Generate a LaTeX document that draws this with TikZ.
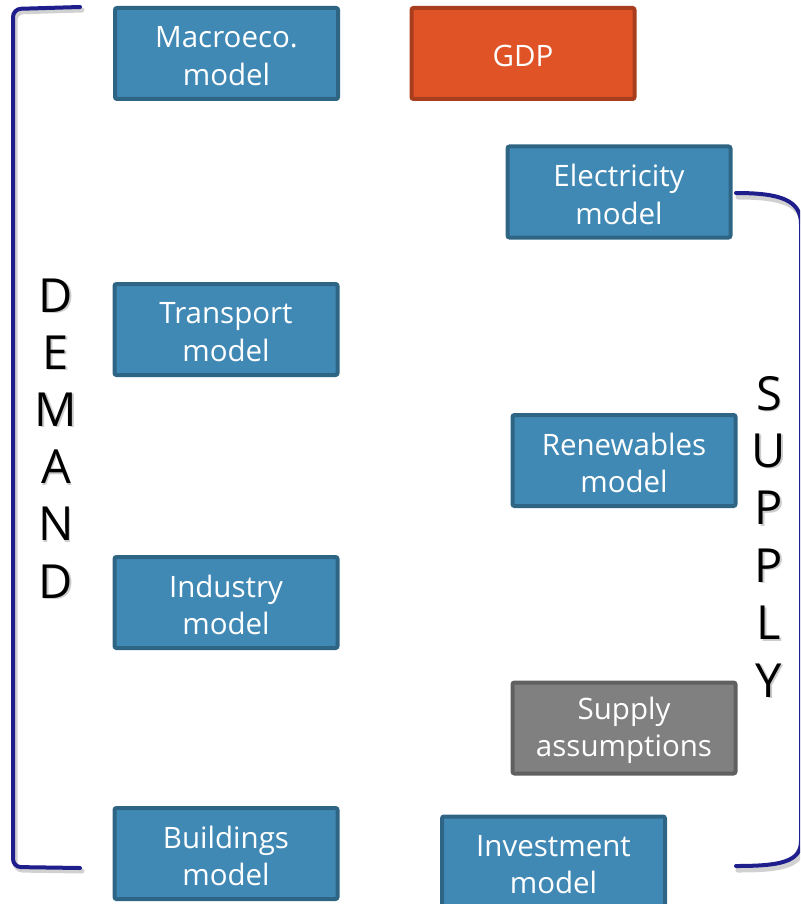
\documentclass[tikz,border=0pt]{standalone}
\usepackage{fontspec}
\setmainfont{Open Sans}
\definecolor{boxblue}{HTML}{4189B5}
\definecolor{boxblueborder}{HTML}{2F6584}
\definecolor{gdpfill}{HTML}{E05326}
\definecolor{gdpborder}{HTML}{A83E1D}
\definecolor{grayfill}{HTML}{808080}
\definecolor{grayborder}{HTML}{606060}
\definecolor{bracketblue}{HTML}{1E1E8C}
\begin{document}
\begin{tikzpicture}[x=1pt,y=-1pt,
  modelbox/.style={draw=boxblueborder, fill=boxblue, line width=4pt, rounded corners=2pt,
    minimum width=223pt, minimum height=91pt, inner sep=0pt},
  gdpbox/.style={modelbox, draw=gdpborder, fill=gdpfill},
  graybox/.style={modelbox, draw=grayborder, fill=grayfill},
  boxtext/.style={text=white, align=center, inner sep=0pt, yshift=-2.5pt,
    font=\fontsize{29.5}{37.5}\selectfont},
  bracket/.style={draw=bracketblue, line width=4pt, line cap=round, rounded corners=8pt},
  bracketshadow/.style={draw=black!18, line width=5pt, line cap=round, rounded corners=8pt},
  letter/.style={inner sep=0pt, text height=34pt, text depth=0pt, font=\fontsize{47}{47}\selectfont}
]
\useasboundingbox (0,0) rectangle (800,904);
\begin{scope}
\clip (0,0) rectangle (800,904);
% brackets with shadow
\draw[bracketshadow] (82,10) -- (15,12) -- (15,870) -- (82,871);
\draw[bracket] (80,7) -- (13,9) -- (13,867) -- (80,868);
\draw[bracketshadow] (738,197) .. controls (782,197) and (803,204) .. (803,236) -- (803,836) .. controls (803,866) and (782,870) .. (738,870);
\draw[bracket] (736,193) .. controls (780,193) and (801,200) .. (801,232) -- (801,833) .. controls (801,862) and (780,866) .. (736,866);

% boxes
\node[modelbox] (macro) at (226.5,53.5) {};
\node[gdpbox] (gdp) at (523,53.5) {};
\node[modelbox] (elec) at (619,192) {};
\node[modelbox] (trans) at (226,329.5) {};
\node[modelbox] (renew) at (624,460.5) {};
\node[modelbox] (indus) at (226,602.5) {};
\node[graybox] (supass) at (624,728) {};
\node[modelbox] (build) at (226,853.5) {};
\node[modelbox] (invest) at (553.5,862) {};

\node[boxtext] (macrot) at (macro.center) {Macroeco.\\model};
\node[boxtext] (gdpt) at (gdp.center) {GDP};
\node[boxtext] (elect) at (elec.center) {Electricity\\model};
\node[boxtext] (transt) at (trans.center) {Transport\\model};
\node[boxtext] (renewt) at (renew.center) {Renewables\\model};
\node[boxtext] (indust) at (indus.center) {Industry\\model};
\node[boxtext] (supasst) at (supass.center) {Supply\\assumptions};
\node[boxtext] (buildt) at (build.center) {Buildings\\model};
\node[boxtext] (investt) at (invest.center) {Investment\\model};

% DEMAND letters
\foreach \ch [count=\i from 0] in {D,E,M,A,N,D} {
  \node[letter, text=black!20] at (57.5,296.5+57.2*\i) {\ch};
  \node[letter] (dem\i) at (56,295+57.2*\i) {\ch};
}
% SUPPLY letters
\foreach \ch [count=\i from 0] in {S,U,P,P,L,Y} {
  \node[letter, text=black!20] at (770.5,394.5+57.4*\i) {\ch};
  \node[letter] (sup\i) at (769,393+57.4*\i) {\ch};
}
\end{scope}
\end{tikzpicture}
\end{document}
